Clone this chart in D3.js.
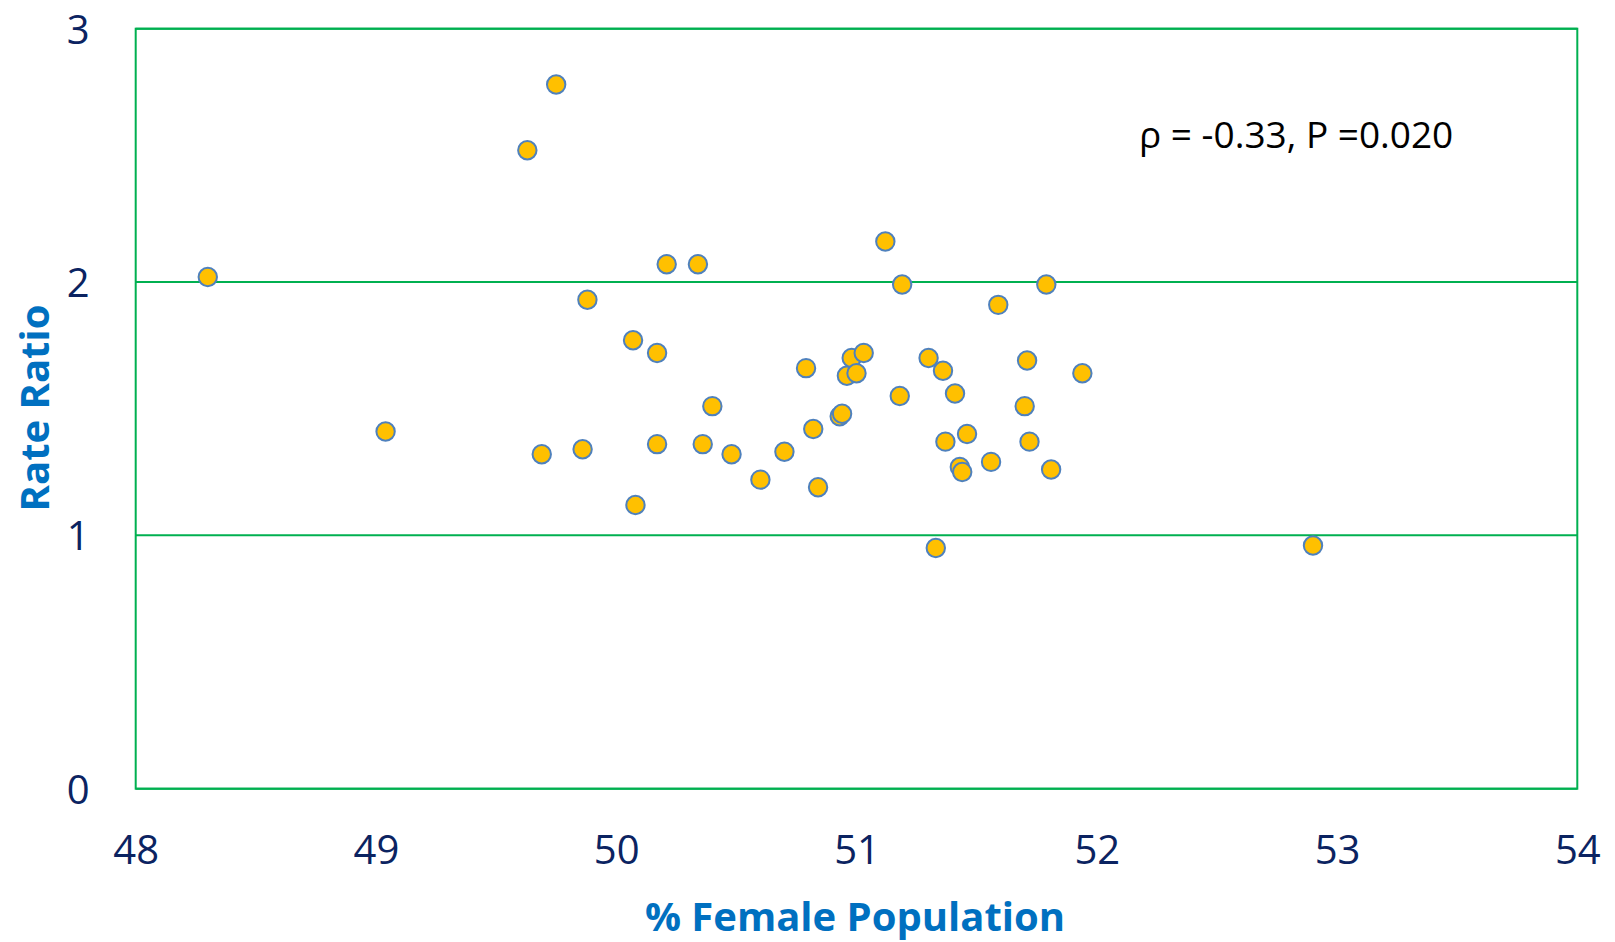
<!DOCTYPE html>
<html>
<head>
<meta charset="utf-8">
<script src="https://cdn.jsdelivr.net/npm/d3@7"></script>
<style>
  html, body { margin: 0; padding: 0; background: #ffffff; }
  svg { display: block; }
  .tick text { font-family: "Open Sans", "Noto Sans", sans-serif; }
</style>
</head>
<body>
<svg id="chart" width="1615" height="942"></svg>
<script>
// % female population per area
const femalePct = [
  48.30, 49.04, 49.63, 49.75, 49.69, 49.86, 49.88, 50.07, 50.08, 50.17,
  50.17, 50.21, 50.34, 50.36, 50.40, 50.48, 50.60, 50.70, 50.79, 50.82,
  50.84, 50.93, 50.94, 50.96, 50.98, 51.00, 51.03, 51.12, 51.18, 51.19,
  51.30, 51.33, 51.36, 51.37, 51.41, 51.43, 51.44, 51.46, 51.56, 51.59,
  51.70, 51.71, 51.72, 51.79, 51.81, 51.94, 52.90
];
// matching rate ratios
const rateRatio = [
  2.02, 1.41, 2.52, 2.78, 1.32, 1.34, 1.93, 1.77, 1.12, 1.72,
  1.36, 2.07, 2.07, 1.36, 1.51, 1.32, 1.22, 1.33, 1.66, 1.42,
  1.19, 1.47, 1.48, 1.63, 1.70, 1.64, 1.72, 2.16, 1.55, 1.99,
  1.70, 0.95, 1.65, 1.37, 1.56, 1.27, 1.25, 1.40, 1.29, 1.91,
  1.51, 1.69, 1.37, 1.99, 1.26, 1.64, 0.96
];
const xTicks = [48, 49, 50, 51, 52, 53, 54];
const yTicks = [0, 1, 2, 3];
const xTitle = "% Female Population";
const yTitle = "Rate Ratio";
const statsNote = "ρ = -0.33, P =0.020";

const points = femalePct.map((v, i) => ({ x: v, y: rateRatio[i] }));

const svg = d3.select("#chart");
const plot = { left: 135.7, right: 1577.3, top: 28.7, bottom: 788.7 };
const green = "#00B050";
const tickColor = "#0B2361";
const titleColor = "#0070C0";

const x = d3.scaleLinear().domain([48, 54]).range([plot.left, plot.right]);
const y = d3.scaleLinear().domain([0, 3]).range([plot.bottom, plot.top]);

// horizontal gridlines
svg.append("g")
  .selectAll("line")
  .data(yTicks)
  .join("line")
  .attr("x1", plot.left).attr("x2", plot.right)
  .attr("y1", d => y(d)).attr("y2", d => y(d))
  .attr("stroke", green).attr("stroke-width", 2);

// plot frame
svg.append("rect")
  .attr("x", plot.left).attr("y", plot.top)
  .attr("width", plot.right - plot.left).attr("height", plot.bottom - plot.top)
  .attr("fill", "none").attr("stroke", green).attr("stroke-width", 2);

// y axis labels
const yAxis = svg.append("g")
  .attr("transform", `translate(${plot.left - 46},0)`)
  .call(d3.axisLeft(y).tickValues(yTicks).tickSize(0).tickPadding(0).tickFormat(d3.format("d")));
yAxis.select(".domain").remove();
yAxis.selectAll("text")
  .attr("fill", tickColor).attr("font-size", 40).attr("dy", "0.36em");

// x axis labels
const xAxis = svg.append("g")
  .attr("transform", `translate(0,${plot.bottom + 47})`)
  .call(d3.axisBottom(x).tickValues(xTicks).tickSize(0).tickPadding(0).tickFormat(d3.format("d")));
xAxis.select(".domain").remove();
xAxis.selectAll("text")
  .attr("fill", tickColor).attr("font-size", 40).attr("dy", "0.71em");

// axis titles
svg.append("text")
  .attr("x", 855)
  .attr("y", 931)
  .attr("text-anchor", "middle")
  .attr("font-family", "'Open Sans', 'Noto Sans', sans-serif")
  .attr("font-weight", "bold").attr("font-size", 40)
  .attr("fill", titleColor)
  .text(xTitle);

svg.append("text")
  .attr("transform", `translate(49,408) rotate(-90)`)
  .attr("text-anchor", "middle")
  .attr("font-family", "'Open Sans', 'Noto Sans', sans-serif")
  .attr("font-weight", "bold").attr("font-size", 40)
  .attr("fill", titleColor)
  .text(yTitle);

// correlation note
svg.append("text")
  .attr("x", 1139).attr("y", 148)
  .attr("font-family", "'Open Sans', 'Noto Sans', sans-serif")
  .attr("font-size", 37)
  .attr("fill", "#000000")
  .text(statsNote);

// scatter points
svg.append("g")
  .selectAll("circle")
  .data(points)
  .join("circle")
  .attr("cx", d => x(d.x))
  .attr("cy", d => y(d.y))
  .attr("r", 9.2)
  .attr("fill", "#FFC000")
  .attr("stroke", "#4F81BD")
  .attr("stroke-width", 2);
</script>
</body>
</html>
